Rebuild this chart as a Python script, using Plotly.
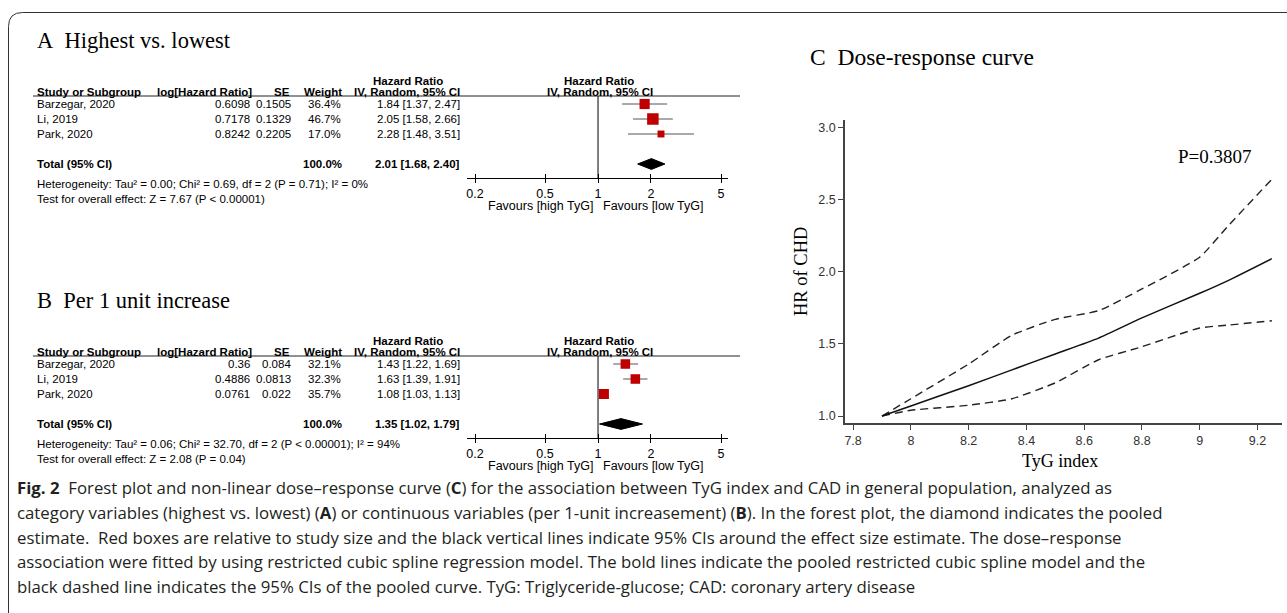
import math
import plotly.graph_objects as go

W, H = 1287, 613
SANS = "Liberation Sans, Arial, sans-serif"
SERIF = "Liberation Serif, Times New Roman, serif"
CAP = "Open Sans, Noto Sans, sans-serif"

# ---------------- data ----------------
studies = ["Barzegar, 2020", "Li, 2019", "Park, 2020"]
forest_ticks = [0.2, 0.5, 1, 2, 5]

# Panel A: highest vs lowest
a_loghr = ["0.6098", "0.7178", "0.8242"]
a_se = ["0.1505", "0.1329", "0.2205"]
a_weight = [36.4, 46.7, 17.0]
a_hr = [1.84, 2.05, 2.28]
a_lo = [1.37, 1.58, 1.48]
a_hi = [2.47, 2.66, 3.51]
a_total = [2.01, 1.68, 2.40]
a_het = "Heterogeneity: Tau² = 0.00; Chi² = 0.69, df = 2 (P = 0.71); I² = 0%"
a_test = "Test for overall effect: Z = 7.67 (P < 0.00001)"

# Panel B: per 1 unit increase
b_loghr = ["0.36", "0.4886", "0.0761"]
b_se = ["0.084", "0.0813", "0.022"]
b_weight = [32.1, 32.3, 35.7]
b_hr = [1.43, 1.63, 1.08]
b_lo = [1.22, 1.39, 1.03]
b_hi = [1.69, 1.91, 1.13]
b_total = [1.35, 1.02, 1.79]
b_het = "Heterogeneity: Tau² = 0.06; Chi² = 32.70, df = 2 (P < 0.00001); I² = 94%"
b_test = "Test for overall effect: Z = 2.08 (P = 0.04)"

total_weight = "100.0%"

# Panel C: dose-response curve
tyg = [7.9, 8.0, 8.2, 8.35, 8.5, 8.65, 8.8, 9.0, 9.1, 9.25]
hr_fit = [1.0, 1.07, 1.21, 1.32, 1.43, 1.54, 1.68, 1.85, 1.94, 2.09]
hr_upper = [1.0, 1.12, 1.36, 1.56, 1.67, 1.73, 1.88, 2.10, 2.32, 2.64]
hr_lower = [1.0, 1.04, 1.075, 1.12, 1.23, 1.39, 1.48, 1.61, 1.63, 1.66]
c_xticks = [7.8, 8.0, 8.2, 8.4, 8.6, 8.8, 9.0, 9.2]
c_yticks = [1.0, 1.5, 2.0, 2.5, 3.0]
p_value = "P=0.3807"

caption = [
    "<b>Fig. 2</b>\u00a0\u00a0Forest plot and non-linear dose–response curve (<b>C</b>) for the association between TyG index and CAD in general population, analyzed as",
    "category variables (highest vs. lowest) (<b>A</b>) or continuous variables (per 1-unit increasement) (<b>B</b>). In the forest plot, the diamond indicates the pooled",
    "estimate.\u00a0\u00a0Red boxes are relative to study size and the black vertical lines indicate 95% CIs around the effect size estimate. The dose–response",
    "association were fitted by using restricted cubic spline regression model. The bold lines indicate the pooled restricted cubic spline model and the",
    "black dashed line indicates the 95% CIs of the pooled curve. TyG: Triglyceride-glucose; CAD: coronary artery disease",
]


def px(x):
    return x / W


def py(y):
    return 1 - y / H


fig = go.Figure()
ann = []
shapes = []

FS = 11.5
FS_AX = 12.5


def text(x, y, s, size=FS, anchor="left", family=SANS, color="black", **kw):
    d = dict(x=x, y=y, text=s, showarrow=False, xanchor=anchor, yanchor="middle",
             font=dict(family=family, size=size, color=color))
    d.setdefault("xref", "paper")
    d.setdefault("yref", "paper")
    d.update(kw)
    ann.append(d)


all_w = a_weight + b_weight
wmax = max(all_w)

# layout of panel A in pixels; panel B is the same block shifted down
base = dict(top=96, r1=104, bottom=178, title_y=40, hdr_y=81, col_y=92, het_y=184, test_y=199, fav_y=206)
shiftB = 260
panels = [
    dict(title="A\u00a0\u00a0Highest vs. lowest", loghr=a_loghr, se=a_se, weight=a_weight, hr=a_hr,
         lo=a_lo, hi=a_hi, total=a_total, het=a_het, test=a_test,
         xa="x", ya="y", xo="x4", ax="xaxis", ay="yaxis", axo="xaxis4",
         **{k: v for k, v in base.items()}),
    dict(title="B\u00a0\u00a0Per 1 unit increase", loghr=b_loghr, se=b_se, weight=b_weight, hr=b_hr,
         lo=b_lo, hi=b_hi, total=b_total, het=b_het, test=b_test,
         xa="x2", ya="y2", xo="x5", ax="xaxis2", ay="yaxis2", axo="xaxis5",
         **{k: v + shiftB for k, v in base.items()}),
]

STEP = 15.0
TOTAL_ROW = 5
layout_axes = {}
for p in panels:
    rows = list(range(1, len(studies) + 1))
    # CI lines
    for i, r in enumerate(rows):
        fig.add_trace(go.Scatter(x=[p["lo"][i], p["hi"][i]], y=[r, r], mode="lines",
                                 line=dict(color="#555555", width=1), xaxis=p["xa"], yaxis=p["ya"],
                                 showlegend=False, hoverinfo="skip"))
    # squares
    fig.add_trace(go.Scatter(x=p["hr"], y=rows, mode="markers",
                             marker=dict(symbol="square", color="#c00000", opacity=1,
                                         size=[11.5 * math.sqrt(w / wmax) for w in p["weight"]],
                                         line=dict(width=0)),
                             xaxis=p["xa"], yaxis=p["ya"], showlegend=False, hoverinfo="skip"))
    # diamond
    est, lo, hi = p["total"]
    hh = 0.36
    fig.add_trace(go.Scatter(x=[lo, est, hi, est, lo], y=[TOTAL_ROW, TOTAL_ROW - hh, TOTAL_ROW, TOTAL_ROW + hh, TOTAL_ROW],
                             mode="lines", fill="toself", fillcolor="black", line=dict(color="black", width=1),
                             xaxis=p["xa"], yaxis=p["ya"], showlegend=False, hoverinfo="skip"))

    yr = [1 + (p["bottom"] - p["r1"]) / STEP, 1 - (p["r1"] - p["top"]) / STEP]
    xr = [math.log10(0.18), math.log10(5.48)]
    layout_axes[p["ax"]] = dict(domain=[px(467), px(728)], type="log", range=xr, anchor=p["ya"],
                                showline=True, linecolor="black", linewidth=1, showgrid=False, zeroline=False,
                                tickvals=forest_ticks, ticktext=[str(t) for t in forest_ticks],
                                ticks="outside", ticklen=4, tickcolor="black", tickwidth=1,
                                tickfont=dict(family=SANS, size=FS_AX, color="black"))
    layout_axes[p["axo"]] = dict(overlaying=p["xa"], anchor=p["ya"], type="log", range=xr, side="bottom",
                                 showline=False, showgrid=False, zeroline=False, tickvals=forest_ticks,
                                 ticks="inside", ticklen=4, tickcolor="black", tickwidth=1, showticklabels=False)
    layout_axes[p["ay"]] = dict(domain=[py(p["bottom"]), py(p["top"])], range=yr, visible=False,
                                anchor=p["xa"], showgrid=False, zeroline=False)
    fig.add_trace(go.Scatter(x=[1], y=[1], mode="markers", marker=dict(opacity=0), xaxis=p["xo"], yaxis=p["ya"],
                             showlegend=False, hoverinfo="skip"))

    # vertical line of no effect
    shapes.append(dict(type="line", xref=p["xa"], yref=p["ya"] + " domain", x0=1, x1=1, y0=0, y1=1,
                       line=dict(color="black", width=1)))
    # header rule
    shapes.append(dict(type="line", xref="paper", yref="paper", x0=px(33), x1=px(740), y0=py(p["top"]),
                       y1=py(p["top"]), line=dict(color="#222222", width=1)))

    # texts
    text(px(35), py(p["title_y"]), p["title"], size=22.5, family=SERIF)
    text(px(408), py(p["hdr_y"]), "<b>Hazard Ratio</b>", anchor="center")
    text(px(599), py(p["hdr_y"]), "<b>Hazard Ratio</b>", anchor="center")
    text(px(35), py(p["col_y"]), "<b>Study or Subgroup</b>")
    text(px(254), py(p["col_y"]), "<b>log[Hazard Ratio]</b>", anchor="right")
    text(px(292), py(p["col_y"]), "<b>SE</b>", anchor="right")
    text(px(344), py(p["col_y"]), "<b>Weight</b>", anchor="right")
    text(px(462), py(p["col_y"]), "<b>IV, Random, 95% CI</b>", anchor="right")
    text(px(600), py(p["col_y"]), "<b>IV, Random, 95% CI</b>", anchor="center")
    for i, r in enumerate(rows):
        kw = dict(yref=p["ya"])
        text(px(35), r, studies[i], **kw)
        text(px(252), r, p["loghr"][i], anchor="right", **kw)
        text(px(293), r, p["se"][i], anchor="right", **kw)
        text(px(343), r, f"{p['weight'][i]:.1f}%", anchor="right", **kw)
        text(px(462), r, f"{p['hr'][i]:.2f} [{p['lo'][i]:.2f}, {p['hi'][i]:.2f}]", anchor="right", **kw)
    text(px(35), TOTAL_ROW, "<b>Total (95% CI)</b>", yref=p["ya"])
    text(px(344), TOTAL_ROW, f"<b>{total_weight}</b>", anchor="right", yref=p["ya"])
    text(px(462), TOTAL_ROW, f"<b>{est:.2f} [{lo:.2f}, {hi:.2f}]</b>", anchor="right", yref=p["ya"])
    text(px(35), py(p["het_y"]), p["het"])
    text(px(35), py(p["test_y"]), p["test"])
    # log axis: annotation x is given in log10 units
    text(math.log10(1), py(p["fav_y"]), "Favours [high TyG]", size=FS_AX, anchor="right", xref=p["xa"], xshift=-3)
    text(math.log10(1), py(p["fav_y"]), "Favours [low TyG]", size=FS_AX, anchor="left", xref=p["xa"], xshift=3)

# ---------------- Panel C ----------------
dash_line = dict(color="#222222", width=1.4, dash="8px,5px", shape="spline", smoothing=0.5)
fig.add_trace(go.Scatter(x=tyg, y=hr_upper, mode="lines", line=dash_line,
                         xaxis="x3", yaxis="y3", showlegend=False, hoverinfo="skip"))
fig.add_trace(go.Scatter(x=tyg, y=hr_lower, mode="lines", line=dash_line,
                         xaxis="x3", yaxis="y3", showlegend=False, hoverinfo="skip"))
fig.add_trace(go.Scatter(x=tyg, y=hr_fit, mode="lines",
                         line=dict(color="#111111", width=1.5, shape="spline", smoothing=0.5),
                         xaxis="x3", yaxis="y3", showlegend=False, hoverinfo="skip"))

layout_axes["xaxis3"] = dict(domain=[px(845), px(1282)], range=[7.772, 9.285], anchor="y3",
                             showline=True, linecolor="#444444", linewidth=1.5, showgrid=False, zeroline=False,
                             tickvals=c_xticks, ticktext=[f"{v:g}" for v in c_xticks],
                             ticks="outside", ticklen=5, tickcolor="#444444", tickwidth=1,
                             tickfont=dict(family=SANS, size=12.5, color="#333333"))
layout_axes["yaxis3"] = dict(domain=[py(423), py(120)], range=[0.952, 3.05], anchor="x3",
                             showline=True, linecolor="#444444", linewidth=1.5, showgrid=False, zeroline=False,
                             tickvals=c_yticks, ticktext=[f"{v:.1f}" for v in c_yticks],
                             ticks="outside", ticklen=5, tickcolor="#444444", tickwidth=1,
                             tickfont=dict(family=SANS, size=12.5, color="#333333"))

text(px(808), py(57), "C\u00a0\u00a0Dose-response curve", size=23.5, family=SERIF)
text(px(1176), py(157), p_value, size=19, family=SERIF)
text(px(801), py(272), "HR of CHD", size=18.5, family=SERIF, anchor="center", textangle=-90)
text(px(1060), py(461), "TyG index", size=18, family=SERIF, anchor="center")

# ---------------- caption ----------------
cap_y = [487, 512, 537, 561, 586]
for line, yy in zip(caption, cap_y):
    text(px(15), py(yy), line, size=16.8, family=CAP, color="#231f20")

# ---------------- frame ----------------
r = 14
path = (f"M {px(8.5)} 0 L {px(8.5)} {py(12.5 + r)} Q {px(8.5)} {py(12.5)} {px(8.5 + r)} {py(12.5)} "
        f"L 1 {py(12.5)}")
shapes.append(dict(type="path", xref="paper", yref="paper", path=path, line=dict(color="#333333", width=1)))

fig.update_layout(width=W, height=H, margin=dict(l=0, r=0, t=0, b=0), paper_bgcolor="white",
                  plot_bgcolor="rgba(0,0,0,0)", annotations=ann, shapes=shapes, showlegend=False,
                  **layout_axes)
fig.write_html("out.html", config={"displayModeBar": False},
               post_script="document.body.style.margin='0px';document.body.style.overflow='hidden';")
